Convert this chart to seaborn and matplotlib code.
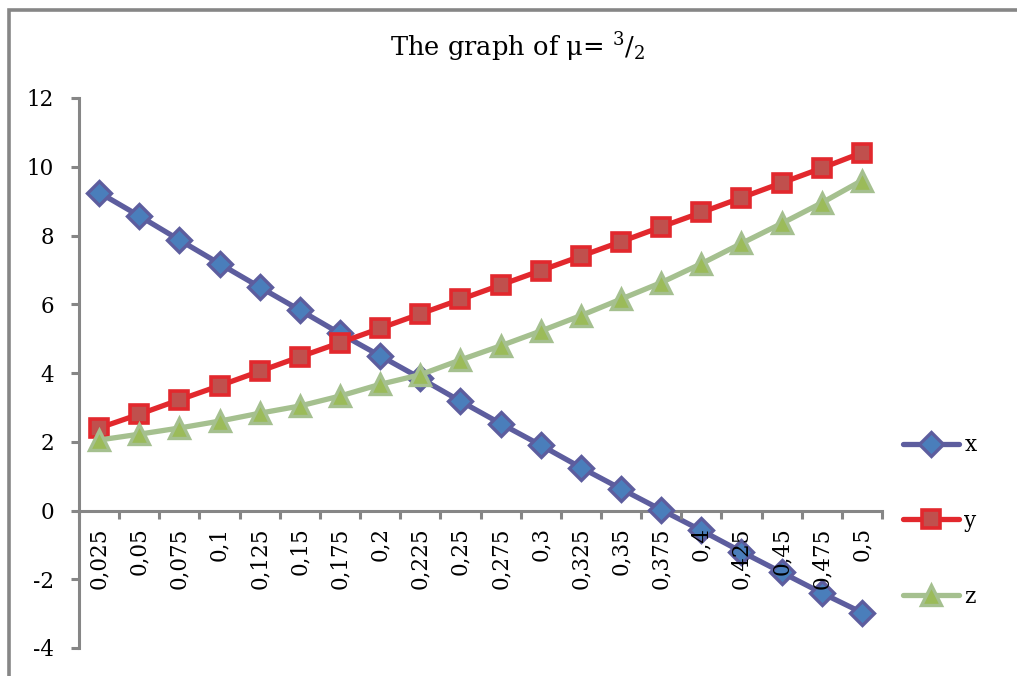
import matplotlib
matplotlib.use("Agg")
import matplotlib.pyplot as plt
import matplotlib.patches as mpatches
import seaborn as sns
import pandas as pd

categories = ["0,025", "0,05", "0,075", "0,1", "0,125", "0,15", "0,175", "0,2", "0,225", "0,25",
              "0,275", "0,3", "0,325", "0,35", "0,375", "0,4", "0,425", "0,45", "0,475", "0,5"]
x_vals = [9.25, 8.57, 7.87, 7.18, 6.50, 5.83, 5.15, 4.50, 3.85, 3.18,
          2.53, 1.90, 1.25, 0.63, 0.02, -0.58, -1.20, -1.80, -2.40, -2.97]
y_vals = [2.40, 2.80, 3.22, 3.63, 4.05, 4.47, 4.88, 5.30, 5.72, 6.14,
          6.56, 6.98, 7.40, 7.82, 8.25, 8.67, 9.10, 9.53, 9.96, 10.41]
z_vals = [2.05, 2.22, 2.40, 2.60, 2.83, 3.04, 3.33, 3.67, 3.95, 4.38,
          4.79, 5.22, 5.67, 6.15, 6.63, 7.18, 7.77, 8.35, 8.95, 9.60]
y_ticks = [-4, -2, 0, 2, 4, 6, 8, 10, 12]

sns.set_theme(style="white")
plt.rcParams['font.family'] = ['DejaVu Serif']
plt.rcParams['mathtext.fontset'] = 'dejavuserif'
plt.rcParams['text.color'] = 'black'

W, H = 1017, 676
fig = plt.figure(figsize=(W / 100, H / 100), dpi=100)
ax = fig.add_axes([79 / W, 1 - 648 / H, (882 - 79) / W, (648 - 98) / H])

df = pd.DataFrame({"cat": categories, "x": x_vals, "y": y_vals, "z": z_vals})
df["pos"] = range(len(categories))

gray = "#868686"
styles = {
    "x": dict(color="#5D5D9E", marker="D", mfc="#4A7EBB", mec="#5D5D9E", ms=12.5, mew=2.4),
    "y": dict(color="#E2282D", marker="s", mfc="#C0504D", mec="#E2282D", ms=13, mew=2.6),
    "z": dict(color="#A5C08F", marker="^", mfc="#9BBB59", mec="#A5C08F", ms=15, mew=2.4),
}
for name in ["x", "y", "z"]:
    st = styles[name]
    sns.lineplot(data=df, x="pos", y=name, ax=ax, color=st["color"], linewidth=3.8,
                 marker=st["marker"], markersize=st["ms"], markerfacecolor=st["mfc"],
                 markeredgecolor=st["mec"], markeredgewidth=st["mew"], label=name,
                 sort=False, zorder=3)

ax.set_xlim(-0.5, len(categories) - 0.5)
ax.set_ylim(-4, 12)
ax.set_xlabel("")
ax.set_ylabel("")

for s in ["top", "right"]:
    ax.spines[s].set_visible(False)
ax.spines["bottom"].set_position(("data", 0))
for s in ["left", "bottom"]:
    ax.spines[s].set_color(gray)
    ax.spines[s].set_linewidth(2.2)

ax.set_yticks(y_ticks)
ax.set_yticklabels([str(t) for t in y_ticks])
ax.tick_params(axis="y", which="major", direction="out", length=6, width=2.2, color=gray,
               labelsize=15.5, pad=12, left=True, labelcolor="black")

ax.set_xticks([i - 0.5 for i in range(len(categories) + 1)])
ax.set_xticklabels([])
ax.set_xticks(range(len(categories)), minor=True)
ax.set_xticklabels(categories, minor=True, rotation=90, va="top", ha="center")
ax.tick_params(axis="x", which="major", direction="out", length=6, width=2.2, color=gray,
               bottom=True)
ax.tick_params(axis="x", which="minor", length=0, labelsize=15.5, pad=12, bottom=True,
               labelcolor="black")
ax.xaxis.set_zorder(4)
ax.grid(False)

handles, labels = ax.get_legend_handles_labels()
leg = ax.legend(handles, labels, loc="center left", bbox_to_anchor=(903 / W, 1 - 521 / H),
                bbox_transform=fig.transFigure, frameon=False, fontsize=15.5, handlelength=2.6,
                handletextpad=0.25, labelspacing=2.5, borderpad=0, borderaxespad=0, numpoints=1)
for t in leg.get_texts():
    t.set_color("black")

fig.text(518 / W, 1 - 47 / H, r"The graph of μ= $^{3}/_{2}$", ha="center",
         va="center", fontsize=18.5, color="black")

border = mpatches.Rectangle((9 / W, -0.1), 1.2, 1 - 10 / H + 0.1, transform=fig.transFigure,
                            fill=False, edgecolor=gray, linewidth=2.6, clip_on=False)
fig.patches.append(border)

fig.savefig("out.png", dpi=100)
